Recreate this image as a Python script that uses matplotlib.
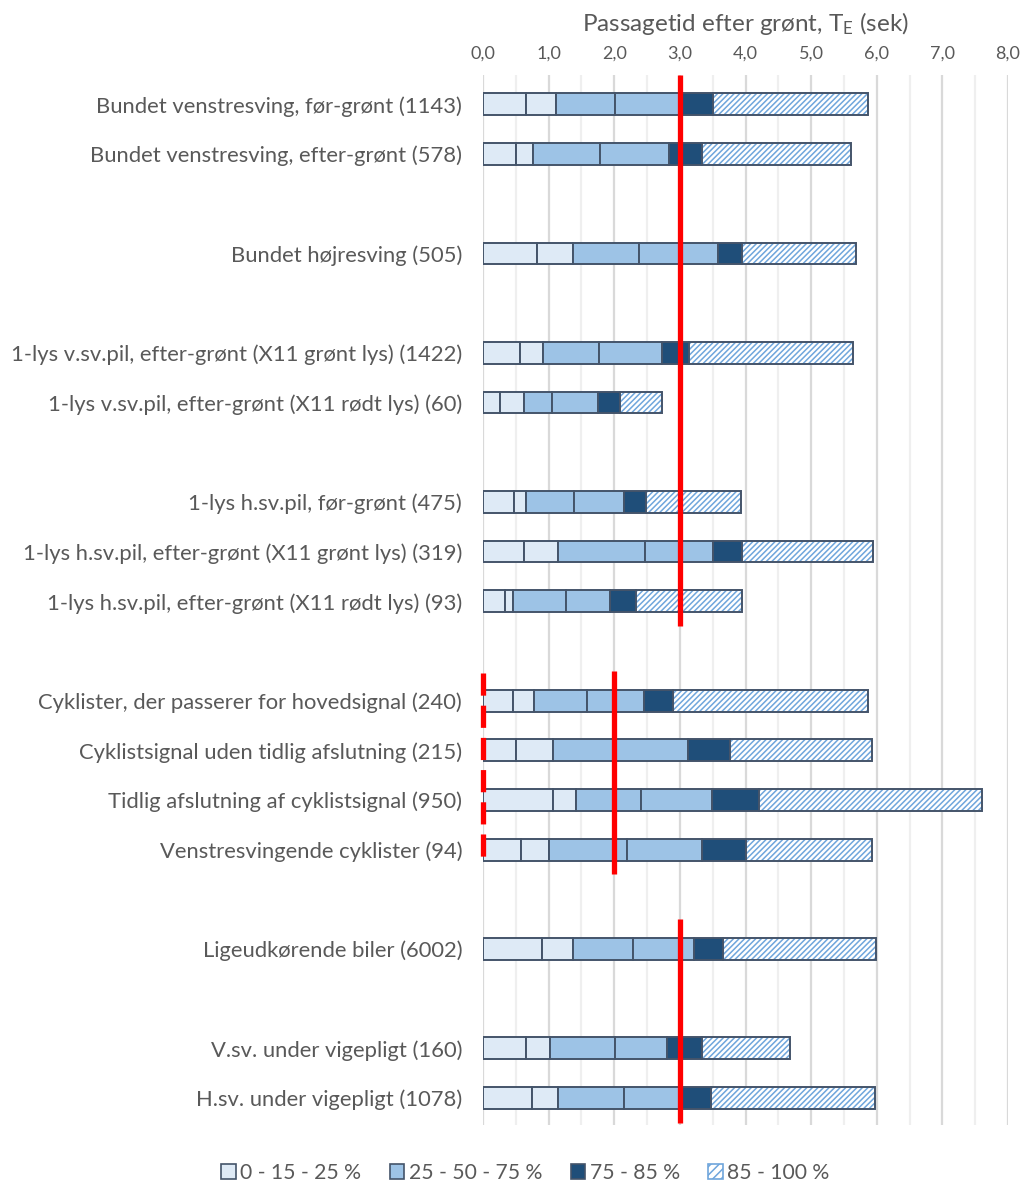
import matplotlib
matplotlib.use("Agg")
import matplotlib.pyplot as plt
from matplotlib.patches import Patch
from matplotlib.ticker import FuncFormatter, MultipleLocator
import numpy as np

plt.rcParams['font.family'] = ['Lato', 'DejaVu Sans']
plt.rcParams['mathtext.default'] = 'regular'
plt.rcParams['hatch.linewidth'] = 1.1

# kategorier (tomme strenge = mellemrum mellem grupper)
labels = ["Bundet venstresving, før-grønt (1143)",
          "Bundet venstresving, efter-grønt (578)",
          "",
          "Bundet højresving (505)",
          "",
          "1-lys v.sv.pil, efter-grønt (X11 grønt lys) (1422)",
          "1-lys v.sv.pil, efter-grønt (X11 rødt lys) (60)",
          "",
          "1-lys h.sv.pil, før-grønt (475)",
          "1-lys h.sv.pil, efter-grønt (X11 grønt lys) (319)",
          "1-lys h.sv.pil, efter-grønt (X11 rødt lys) (93)",
          "",
          "Cyklister, der passerer for hovedsignal (240)",
          "Cyklistsignal uden tidlig afslutning (215)",
          "Tidlig afslutning af cyklistsignal (950)",
          "Venstresvingende cyklister (94)",
          "",
          "Ligeudkørende biler (6002)",
          "",
          "V.sv. under vigepligt (160)",
          "H.sv. under vigepligt (1078)"]

nan = np.nan
# fraktiler af passagetid (sek)
p15 = [0.66, 0.50, nan, 0.82, nan, 0.56, 0.26, nan, 0.47, 0.62, 0.33, nan, 0.46, 0.51, 1.07, 0.58, nan, 0.90, nan, 0.66, 0.74]
p25 = [1.11, 0.76, nan, 1.37, nan, 0.91, 0.63, nan, 0.66, 1.15, 0.46, nan, 0.77, 1.06, 1.42, 1.01, nan, 1.37, nan, 1.02, 1.14]
p50 = [2.01, 1.79, nan, 2.38, nan, 1.76, 1.05, nan, 1.39, 2.47, 1.27, nan, 1.58, 1.98, 2.41, 2.20, nan, 2.29, nan, 2.01, 2.15]
p75 = [2.98, 2.84, nan, 3.58, nan, 2.72, 1.75, nan, 2.15, 3.51, 1.93, nan, 2.45, 3.13, 3.49, 3.33, nan, 3.21, nan, 2.80, 2.98]
p85 = [3.51, 3.34, nan, 3.94, nan, 3.14, 2.08, nan, 2.48, 3.95, 2.33, nan, 2.89, 3.77, 4.21, 4.01, nan, 3.66, nan, 3.34, 3.47]
p100 = [5.87, 5.61, nan, 5.68, nan, 5.64, 2.73, nan, 3.93, 5.94, 3.95, nan, 5.87, 5.93, 7.60, 5.93, nan, 5.99, nan, 4.68, 5.98]

legend_labels = ["0 - 15 - 25 %", "25 - 50 - 75 %", "75 - 85 %", "85 - 100 %"]

# referencelinjer: x, fra kategori, til kategori, stil
ref_x = [3.0, 0.0, 2.0, 3.0]
ref_from = [0, 12, 12, 17]
ref_to = [10, 15, 15, 20]
ref_style = ['-', '--', '-', '-']

c_light = '#DEEAF6'
c_mid = '#9DC3E6'
c_dark = '#1F4E79'
c_hatch = '#6FA6DC'
c_edge = '#44546A'
c_text = '#595959'

fig = plt.figure(figsize=(10.24, 11.84), dpi=100)
ax = fig.add_axes([0.4717, 0.0495, 0.5127, 0.8875])

y = np.arange(len(labels))
h = 0.44
bounds = [np.zeros(len(labels)), np.array(p15), np.array(p25), np.array(p50),
          np.array(p75), np.array(p85)]
ends = [np.array(p15), np.array(p25), np.array(p50), np.array(p75),
        np.array(p85), np.array(p100)]
colors = [c_light, c_light, c_mid, c_mid, c_dark]
for k in range(5):
    ax.barh(y, ends[k] - bounds[k], left=bounds[k], height=h, color=colors[k],
            edgecolor=c_edge, linewidth=1.4, zorder=3)
# skraveret del: skravering først, derefter kant
ax.barh(y, ends[5] - bounds[5], left=bounds[5], height=h, color='white',
        edgecolor=c_hatch, hatch='//////', linewidth=0, zorder=3)
ax.barh(y, ends[5] - bounds[5], left=bounds[5], height=h, fill=False,
        edgecolor=c_edge, linewidth=1.4, zorder=3)

for i in range(len(ref_x)):
    y0 = ref_from[i] - 0.6
    y1 = ref_to[i] + 0.5
    if ref_style[i] == '--':
        ax.plot([ref_x[i], ref_x[i]], [y0 + 0.05, y1 - 0.2], color='red', lw=3.8,
                ls=(0, (4.2, 1.9)), zorder=5, solid_capstyle='butt', clip_on=False)
    else:
        ax.plot([ref_x[i], ref_x[i]], [y0, y1], color='red', lw=3.8, zorder=5,
                solid_capstyle='butt', clip_on=False)

ax.set_xlim(0, 8)
ax.set_ylim(20.55, -0.6)
ax.set_yticks(y)
ax.set_yticklabels(labels, fontsize=15.8, color=c_text)
ax.tick_params(axis='y', length=0, pad=15)
ax.xaxis.tick_top()
ax.xaxis.set_label_position('top')
ax.xaxis.set_major_locator(MultipleLocator(1))
ax.xaxis.set_minor_locator(MultipleLocator(0.5))
ax.xaxis.set_major_formatter(FuncFormatter(lambda v, p: f"{v:.1f}".replace('.', ',')))
ax.tick_params(axis='x', which='both', length=0, labelsize=13, labelcolor=c_text, pad=9)
ax.grid(axis='x', which='major', color='#D9D9D9', lw=1.6, zorder=0)
ax.grid(axis='x', which='minor', color='#EFEFEF', lw=1.6, zorder=0)
ax.set_axisbelow(True)
for s in ax.spines.values():
    s.set_visible(False)
ax.set_xlabel("Passagetid efter grønt, T$_E$ (sek)", fontsize=17.5, color=c_text, labelpad=11)

handles = [Patch(facecolor=c_light, edgecolor=c_edge, lw=1.2),
           Patch(facecolor=c_mid, edgecolor=c_edge, lw=1.2),
           Patch(facecolor=c_dark, edgecolor=c_edge, lw=1.2),
           Patch(facecolor='white', edgecolor=c_hatch, hatch='////', lw=1.2)]
leg = fig.legend(handles, legend_labels, loc='center', bbox_to_anchor=(0.513, 0.0095),
                 ncol=4, frameon=False, fontsize=15.2, handlelength=0.7,
                 handleheight=0.7, handletextpad=0.2, columnspacing=1.35)
for t in leg.get_texts():
    t.set_color(c_text)

fig.savefig("out.png", dpi=100)
